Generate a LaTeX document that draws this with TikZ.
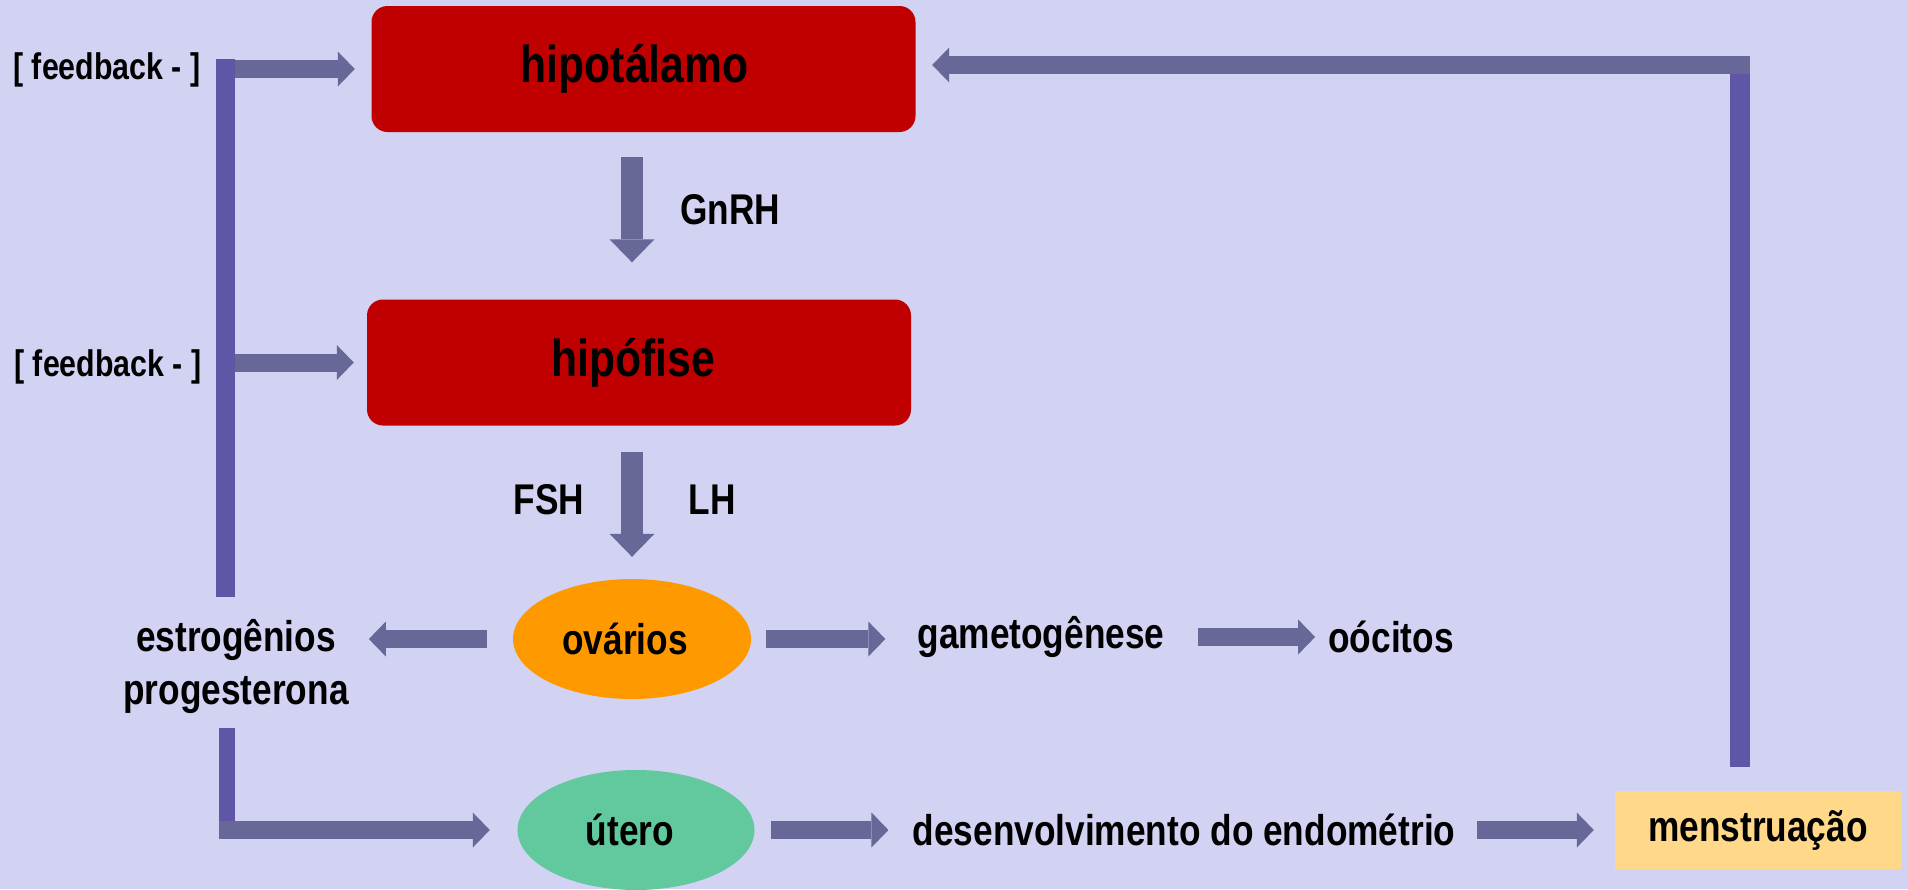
\documentclass[tikz,border=0pt]{standalone}
\usepackage{fontspec}
\setmainfont[FakeStretch=0.82]{Liberation Sans}
\usetikzlibrary{shapes.geometric,arrows.meta,calc}
\definecolor{bg}{RGB}{210,210,243}
\definecolor{boxred}{RGB}{192,0,0}
\definecolor{ovorange}{RGB}{255,153,0}
\definecolor{utgreen}{RGB}{97,201,157}
\definecolor{mensty}{RGB}{255,216,138}
\definecolor{arrowgrey}{RGB}{103,103,152}
\definecolor{linepurple}{RGB}{95,87,165}
\begin{document}
\begin{tikzpicture}[x=1pt,y=-1pt,
  every node/.style={font=\bfseries\fontsize{43}{53}\selectfont, inner sep=0pt, align=center},
  bigbox/.style={fill=boxred, rounded corners=16pt, minimum width=544pt, minimum height=126pt, font=\bfseries\fontsize{52}{60}\selectfont},
  oval/.style={ellipse, minimum width=238pt, minimum height=120pt},
  fbtext/.style={font=\bfseries\fontsize{37}{44}\selectfont},
  harrow/.style={draw=arrowgrey, line width=18pt, -{Triangle[length=17pt, width=35pt, line width=0pt]}},
  varrow/.style={draw=arrowgrey, line width=22pt, -{Triangle[length=23pt, width=45pt, line width=0pt]}},
  plainline/.style={draw=linepurple, line width=19pt},
]
\useasboundingbox (0,0) rectangle (1908,889);
\fill[bg] (0,0) rectangle (1908,889);

\node[bigbox] (hipot) at (643.5,69) {\hspace*{-18pt}hipotálamo};
\node[bigbox] (hipof) at (639,362.5) {\hspace*{-12pt}hipófise};
\node[oval, fill=ovorange] (ov) at (632,639) {\hspace*{-14pt}ovários};
\node[oval, fill=utgreen, minimum width=237pt] (ut) at (636,830) {\hspace*{-12pt}útero};
\node[fill=mensty, minimum width=286pt, minimum height=78pt] (menst) at (1758,830) {menstruação};
\node (est) at (236,666) {estrogênios\\progesterona};
\node (game) at (1041,637) {gametogênese};
\node (oo) at (1391,637) {oócitos};
\node (dev) at (1184,830) {desenvolvimento do endométrio};
\node[fbtext] (fb1) at (107,70) {[ feedback - ]};
\node[fbtext] (fb2) at (108,367) {[ feedback - ]};
\node (gnrh) at (730,210) {GnRH};
\node (fsh) at (549,500) {FSH};
\node (lh) at (712,500) {LH};

% feedback line and arrows
\coordinate (fbtop) at (225,59);
\coordinate (fbbot) at (225,597);
\draw[plainline] (fbtop) -- (fbbot);
\draw[harrow] ([xshift=10pt]fbtop |- hipot.west) -- ([xshift=-16.5pt]hipot.west);
\draw[harrow] ([xshift=10pt]fbtop |- hipof.west) -- ([xshift=-13pt]hipof.west);

% vertical hormone arrows
\draw[varrow, shorten <=25pt, shorten >=37pt] (hipot.south -| ov) -- (hipof.north -| ov);
\draw[varrow, shorten <=26pt, shorten >=22pt] (hipof.south -| ov) -- (ov.north);

% horizontal arrows
\draw[harrow, shorten <=26pt, shorten >=20pt] (ov.west) -- (ov.west -| est.east);
\draw[harrow, shorten <=15pt, shorten >=32pt] (ov.east) -- (ov.east -| game.west);
\draw[harrow, shorten <=33pt, shorten >=13pt] (game.east) -- (game.east -| oo.west);
\draw[harrow, shorten <=16.5pt, shorten >=24pt] (ut.east) -- (ut.east -| dev.west);
\draw[harrow, shorten <=21pt, shorten >=21pt] (dev.east) -- (dev.east -| menst.west);

% estrogens to uterus
\coordinate (estdown) at (227,728);
\coordinate (ecorner) at (227,839);
\draw[plainline, line width=16pt] (estdown) -- (ecorner);
\draw[harrow, shorten >=27.5pt] ([xshift=-8pt]ecorner |- ut.west) -- (ut.west);

% return from menstruation to hypothalamus
\coordinate (rtop) at (1740,65);
\draw[plainline, line width=20pt, shorten >=24pt] ([yshift=-9pt]rtop) -- (menst.north -| rtop);
\draw[harrow] ([xshift=10pt]rtop) -- ([xshift=16.5pt]hipot.east |- rtop);
\end{tikzpicture}
\end{document}
